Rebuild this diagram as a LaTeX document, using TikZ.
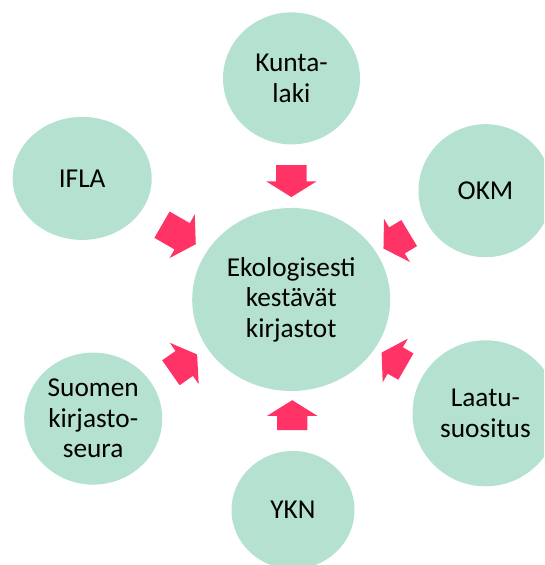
\documentclass[tikz,border=0pt]{standalone}
\usepackage{fontspec}
\setmainfont{Carlito}
\usetikzlibrary{shapes.geometric,shapes.arrows,calc}
\definecolor{minttu}{RGB}{180,225,208}
\definecolor{pinkki}{RGB}{255,51,102}
\begin{document}
\begin{tikzpicture}[x=1pt,y=1pt]
	\tikzstyle{every node} = [align=center]
	\tikzstyle{pallo} = [ellipse,fill=minttu,inner sep=0pt,font=\fontsize{27.3}{30.5}\selectfont]
	\tikzstyle{nuoli} = [single arrow,fill=pinkki,inner xsep=0pt,inner ysep=15pt,minimum width=50pt,
		single arrow head extend=10pt,single arrow tip angle=116,minimum height=32pt]
	
	\useasboundingbox (0,0) rectangle (544,565);
	\clip (0,0) rectangle (544,565);
	
	\node[pallo,minimum width=198pt,minimum height=183pt] (keski) at (291.2,265.5) {Ekologisesti\\kestävät\\kirjastot};
	\node[pallo,minimum width=137pt,minimum height=132pt] (kunta) at (291.5,486.6) {Kunta-\\laki};
	\node[pallo,minimum width=139pt,minimum height=123pt] (ifla) at (82.2,386.6) {IFLA};
	\node[pallo,minimum width=134pt,minimum height=133pt] (okm) at (485.5,374.3) {OKM};
	\node[pallo,minimum width=146pt,minimum height=146pt] (laatu) at (485.5,151.7) {Laatu-\\suositus};
	\node[pallo,minimum width=123pt,minimum height=118pt] (ykn) at (293,55) {YKN};
	\node[pallo,minimum width=138pt,minimum height=132pt] (seura) at (93.2,146.4) {Suomen\\kirjasto-\\seura};
	
	% nuolet keskelle
	\node[nuoli,rotate=-90] (kuntanuoli) at ($(kunta)!0.443!(keski)$) {};
	\node[nuoli,rotate=-30,minimum height=39pt] (iflanuoli) at ($(ifla)!0.443!(keski)$) {};
	\node[nuoli,rotate=-149,minimum height=30pt] (okmnuoli) at ($(okm)!0.438!(keski)$) {};
	\node[nuoli,rotate=150,minimum height=28pt] (laatunuoli) at ($(laatu)!0.451!(keski)$) {};
	\node[nuoli,rotate=90,minimum height=30pt] (yknnuoli) at ($(ykn)!0.428!(keski)$) {};
	\node[nuoli,rotate=35] (seuranuoli) at ($(seura)!0.439!(keski)$) {};
\end{tikzpicture}
\end{document}
